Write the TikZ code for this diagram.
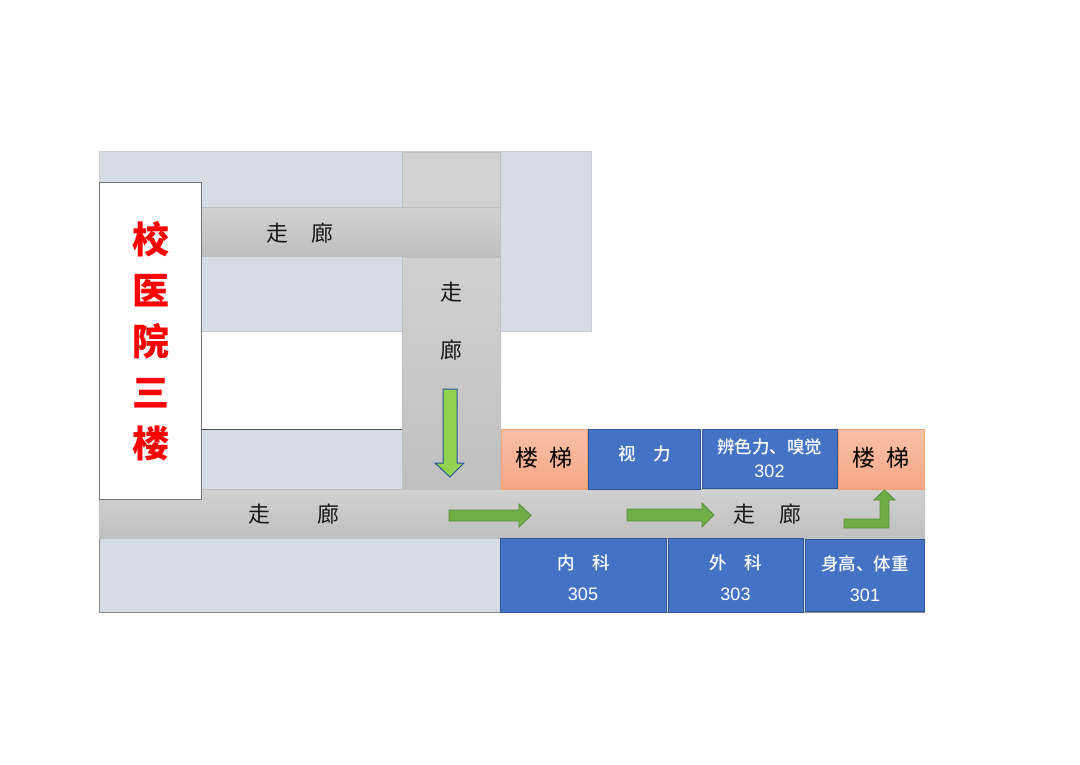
\documentclass[tikz,border=0pt]{standalone}
\usepackage{fontspec}
\setmainfont{Liberation Sans}
\newfontfamily\cjk{Noto Sans CJK SC}
\newfontfamily\cjkm{Noto Sans CJK SC Medium}
\newfontfamily\cjkb{Noto Sans CJK SC Black}
\definecolor{lightblock}{HTML}{D6DCE5}
\definecolor{blockline}{HTML}{C9CDD3}
\definecolor{roomblue}{HTML}{4472C4}
\definecolor{roomline}{HTML}{2F5597}
\definecolor{stairline}{HTML}{F4A46F}
\definecolor{stairtop}{HTML}{F8C0A8}
\definecolor{stairbot}{HTML}{F6A684}
\definecolor{arrowgreen}{HTML}{70AD47}
\definecolor{arrowline}{HTML}{5B8F3A}
\definecolor{arrowlime}{HTML}{92D050}
\definecolor{signred}{HTML}{FF0000}
\newcommand{\digits}{\fontspec{Liberation Sans}\fontsize{18}{20}\selectfont}
\tikzset{
  x=1pt,y=-1pt,
  sz/.style 2 args={minimum width=#1pt,minimum height=#2pt},
  box/.style={anchor=north west,inner sep=0pt,outer sep=0pt,align=center,font=\cjk},
  block/.style={box,fill=lightblock,draw=blockline,line width=.7pt},
  corridor/.style={box,top color=black!18,bottom color=black!25,draw=black!25,line width=.7pt},
  corrlabel/.style={anchor=center,inner sep=0pt,text=black!90,font=\cjk\fontsize{22}{24}\selectfont},
  stairs/.style={box,top color=stairtop,bottom color=stairbot,draw=stairline,line width=.7pt,font=\cjk\fontsize{23}{25}\selectfont},
  room/.style={box,fill=roomblue,draw=roomline,line width=1pt},
  roomtext/.style={anchor=center,inner sep=0pt,align=center,text=white,font=\cjkm\fontsize{17.5}{20}\selectfont},
  sign/.style={box,fill=white,draw=black!55,line width=.9pt,text=signred,font=\cjkb\fontsize{37}{51}\selectfont},
  flow/.style={fill=arrowgreen,draw=arrowline,line width=.9pt,line join=miter},
  flowdown/.style={fill=arrowlime,draw=roomline,line width=1pt,line join=miter},
}
\begin{document}
\begin{tikzpicture}
\useasboundingbox (0,0) rectangle (1080,764);
% light blocks
\node[block,sz={492}{180}] (upper) at (99,151) {};
\node[block,sz={825.5}{74},draw=black!45] (lower) at (99,538) {};
\node[box,fill=lightblock,sz={201}{60}] (middle) at (201,429) {};
\draw[black!70,line width=.8pt] (middle.north west) -- (middle.north east);
% corridors
\node[box,fill=black!18,draw=black!25,line width=.7pt,sz={98}{56}] (stub) at (402,152) {};
\node[corridor,sz={98}{232}] (vert) at (402,257) {};
\node[corrlabel] (vzou) at (451,292) {走};
\node[corrlabel] (vlang) at (451,350) {廊};
\node[corridor,sz={299}{49}] (htop) at (201,207.5) {};
\node[corrlabel] (tw) at (300,233) {走\hspace{23pt}廊};
\node[corridor,sz={825.5}{49}] (hmain) at (99,489) {};
\node[corrlabel] (lw) at (294,514) {走\hspace{47pt}廊};
\node[corrlabel] (rw) at (767.5,514) {走\hspace{24pt}廊};
% hospital sign
\node[sign,sz={102}{317}] (hosp) at (99,182.5) {\hspace*{1pt}校\\\hspace*{1pt}医\\\hspace*{1pt}院\\\hspace*{1pt}三\\\hspace*{1pt}楼};
% stairs
\node[stairs,sz={86.5}{60}] (stairl) at (501,429) {\raisebox{5pt}{楼\hspace{11pt}梯}};
\node[stairs,sz={86.5}{60}] (stairr) at (838,429) {\raisebox{5pt}{楼\hspace{11pt}梯}};
% rooms
\node[room,sz={112.5}{60}] (vision) at (588,429) {};
\node[room,sz={135}{59}] (color) at (702,429) {};
\node[room,sz={166}{74}] (r305) at (500,538) {};
\node[room,sz={135}{74}] (r303) at (668,538) {};
\node[room,sz={118.5}{72}] (r301) at (805.5,539) {};
\node[roomtext] (tvision) at (645,454) {视\hspace{18pt}力};
\node[roomtext] (tcolor) at (769.5,447) {辨色力、嗅觉};
\node[roomtext] (n302) at (769.5,471) {\digits 302};
\node[roomtext] (t305) at (583.5,563) {内\hspace{18pt}科};
\node[roomtext] (n305) at (583,594) {\digits 305};
\node[roomtext] (t303) at (736,563) {外\hspace{18pt}科};
\node[roomtext] (n303) at (735.5,594) {\digits 303};
\node[roomtext] (t301) at (865,564) {身高、体重};
\node[roomtext] (n301) at (865,595) {\digits 301};
% arrows
\draw[flowdown] (443,389) -- (457,389) -- (457,463) -- (464,463) -- (450,477) -- (435,463) -- (443,463) -- cycle;
\draw[flow] (449,510) -- (519,510) -- (519,504) -- (531,515.5) -- (519,527) -- (519,521) -- (449,521) -- cycle;
\draw[flow] (627,509) -- (702,509) -- (702,503) -- (714,515) -- (702,527) -- (702,521) -- (627,521) -- cycle;
\draw[flow] (844,519) -- (880,519) -- (880,500) -- (874,500) -- (884.5,490) -- (895,500) -- (889,500) -- (889,528) -- (844,528) -- cycle;
\end{tikzpicture}
\end{document}
